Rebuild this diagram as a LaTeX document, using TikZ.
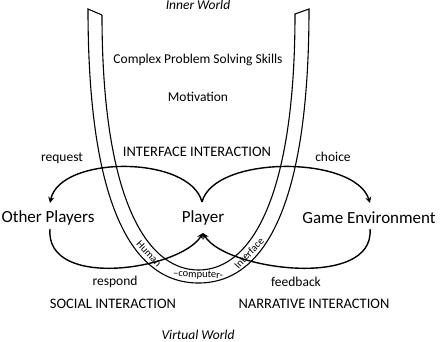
\documentclass[tikz,border=0pt]{standalone}
\usepackage{fontspec}
\setmainfont{Carlito}
\usetikzlibrary{arrows.meta}
\begin{document}
\begin{tikzpicture}[x=1pt,y=-1pt,
  lbl/.style={font=\fontsize{13.5}{15}\selectfont, inner sep=0pt},
  big/.style={font=\fontsize{17}{19}\selectfont, inner sep=0pt},
  capslbl/.style={font=\fontsize{14.5}{16}\selectfont, inner sep=0pt},
  world/.style={font=\itshape\fontsize{13.5}{15}\selectfont, inner sep=0pt},
  bandtxt/.style={font=\fontsize{10.5}{12}\selectfont, inner sep=0pt},
  bandline/.style={line width=1.1pt},
  loopline/.style={line width=1.4pt},
  tipend/.style={-{Stealth[length=6pt,width=6pt]}}]
\useasboundingbox (0,0) rectangle (440,341);

% human-computer interface band
\draw[bandline] (102,15) -- (88,9)
  .. controls (88,200) and (130,283) .. (198.5,283)
  .. controls (267,283) and (309,200) .. (309,9)
  -- (295,14)
  .. controls (295,195) and (252,270) .. (198.5,270)
  .. controls (145,270) and (102,195) .. (102,15);

% text
\node[world] (inner) at (198,5) {Inner World};
\node[lbl] (cpss) at (198,60) {Complex Problem Solving Skills};
\node[lbl] (motiv) at (198,97) {Motivation};
\node[capslbl] (iface) at (197,152) {INTERFACE INTERACTION};
\node[lbl] (request) at (62,158) {request};
\node[lbl] (choice) at (333,157) {choice};
\node[big] (other) at (48,218) {Other Players};
\node[big] (player) at (203,218) {Player};
\node[big] (game) at (369,218) {Game Environment};
\node[lbl] (respond) at (115,282) {respond};
\node[lbl] (feedback) at (296,282) {feedback};
\node[capslbl] (social) at (113,304) {SOCIAL INTERACTION};
\node[capslbl] (narr) at (314,304) {NARRATIVE INTERACTION};
\node[world] (virtual) at (198,335) {Virtual World};

\node[bandtxt, rotate=-47] (human) at (149,254) {Human};
\node[bandtxt, rotate=-2] (computer) at (198,275) {--computer-};
\node[bandtxt, rotate=47] (interf) at (249,253) {Interface};

% connector end points
\coordinate (pTop) at (202,202);
\coordinate (pBot) at (203,233);
\coordinate (oTop) at (50,203);
\coordinate (oBot) at (50,229);
\coordinate (gTop) at (370,203);
\coordinate (gBot) at (370,229);

% loops
\draw[loopline, tipend] (pTop) .. controls (190,155) and (60,155) .. (oTop);
\draw[loopline, tipend] (oBot) .. controls (45,290) and (180,270) .. (pBot);
\draw[loopline, tipend] (pTop) .. controls (214,155) and (355,155) .. (gTop);
\draw[loopline, tipend] (gBot) .. controls (375,290) and (225,270) .. (pBot);
\end{tikzpicture}
\end{document}
